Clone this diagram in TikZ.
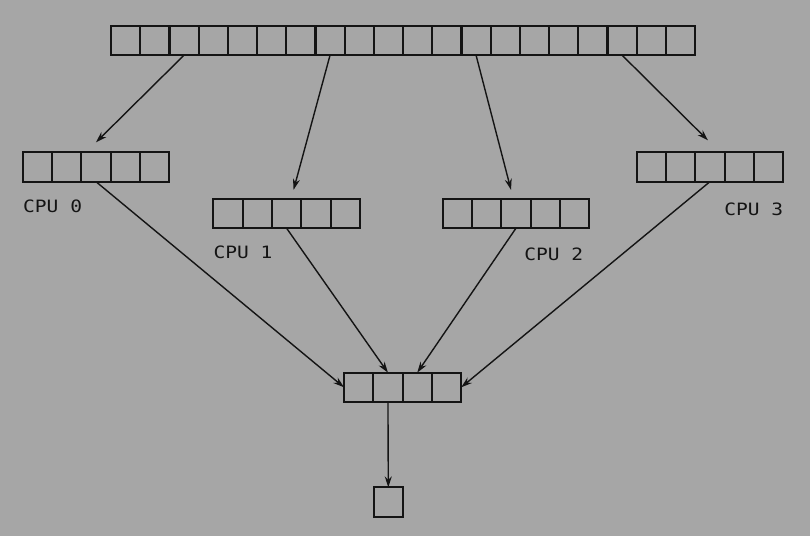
\documentclass[tikz,border=0pt]{standalone}
\usepackage{fontspec}
\newfontfamily\cpufont{DejaVu Sans Mono}[FakeStretch=1.15]
\usepackage{tikz}
\usetikzlibrary{calc,arrows.meta}
\definecolor{bgc}{HTML}{A6A6A6}
\definecolor{linec}{HTML}{141414}
\tikzset{
  ar/.style={-{Stealth[length=11pt,width=7pt]},line width=1.4pt,linec},
  cell/.style={draw=linec,line width=2pt,minimum size=29.3pt,inner sep=0pt,outer sep=0pt},
  lbl/.style={font=\cpufont\fontsize{17}{17}\selectfont,text=linec,inner sep=0pt}
}
\begin{document}
\begin{tikzpicture}[x=1pt,y=-1pt]
\fill[bgc] (0,0) rectangle (810,536);
\useasboundingbox (0,0) rectangle (810,536);
% shared queue
\foreach \i in {0,...,19}
  \node[cell] (t\i) at (125.65+29.2*\i,40.5) {};
% per cpu queues
\foreach \c/\cx/\cy in {0/37.35/167,1/227.95/213.5,2/457.4/213.5,3/651.35/167}{
  \foreach \i in {0,...,4}
    \node[cell] (c\c-\i) at (\cx+29.3*\i,\cy) {};}
% merged queue and output
\foreach \i in {0,...,3}
  \node[cell] (b\i) at (358.65+29.3*\i,387.3) {};
\node[cell] (res) at (388.3,502) {};
% labels
\node[lbl,anchor=base west] (l0) at (23,212.7) {CPU 0};
\node[lbl,anchor=base west] (l1) at (213.3,258.3) {CPU 1};
\node[lbl,anchor=base east] (l2) at (583.3,260.7) {CPU 2};
\node[lbl,anchor=base east] (l3) at (783.3,215) {CPU 3};
% fan out
\draw[ar] (t2.south) -- ($(c0-2.north)+(0,-10)$);
\draw[ar] (t7.south) -- ($(c1-2.north)+(7,-9)$);
\draw[ar] (t12.south) -- ($(c2-2.north)+(-5,-9)$);
\draw[ar] (t17.south) -- ($(c3-2.north)+(-2,-12)$);
% fan in
\draw[ar] (c0-2.south) -- (b0.west);
\draw[ar] (c1-2.south) -- (b1.north);
\draw[ar] (c2-2.south) -- (b2.north);
\draw[ar] (c3-2.south) -- (b3.east);
\draw[ar] (b1.south) -- (res.north);
\end{tikzpicture}
\end{document}
